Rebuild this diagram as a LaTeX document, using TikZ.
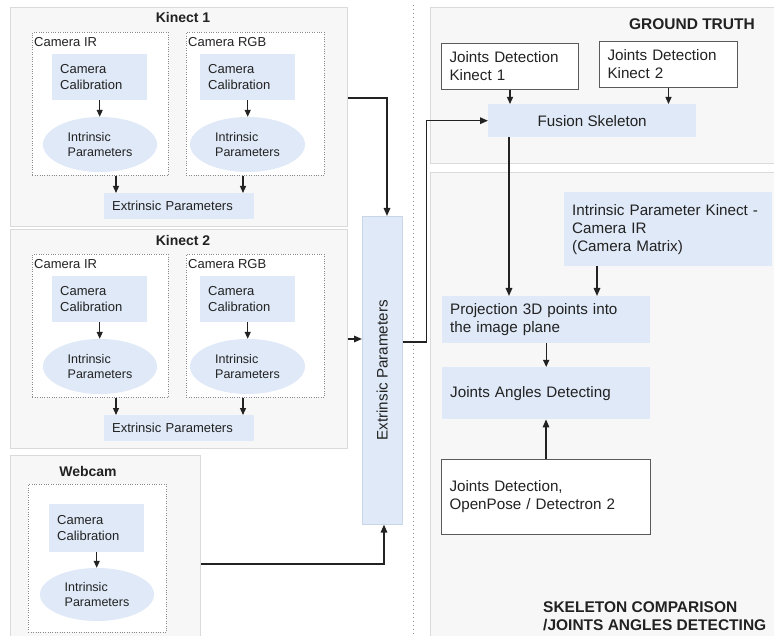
\documentclass[tikz,border=0pt]{standalone}
\usepackage{fontspec}
\setmainfont{Liberation Sans}
\usetikzlibrary{arrows.meta,calc,shapes.geometric}
\definecolor{panelfill}{HTML}{F7F7F7}
\definecolor{paneldraw}{HTML}{DADADA}
\definecolor{boxblue}{HTML}{DFE9F7}
\definecolor{boxedge}{HTML}{C9D6E8}
\definecolor{ink}{HTML}{222222}
\definecolor{dotgray}{HTML}{8A8A8A}
\definecolor{edgegray}{HTML}{5A5A5A}
\newcommand\kinectblock[3]{%
\begin{scope}[shift={(0,#2)}]
  \node[panel, minimum width=337pt, minimum height=219pt] (k#1) at (10,7) {};
  \node[ttl] (kt#1) at (183,18) {#3};
  \node[camframe, minimum width=136pt, minimum height=143pt] (ir#1) at (32,32) {};
  \node[lbl] (irl#1) at (34,46.5) {Camera IR};
  \node[camframe, minimum width=138pt, minimum height=143pt] (rgb#1) at (186,32) {};
  \node[lbl] (rgbl#1) at (188,46.5) {Camera RGB};
  \node[bluebox, text width=79pt, minimum height=46pt] (cci#1) at (52,54) {Camera\\Calibration};
  \node[bluebox, text width=79pt, minimum height=46pt] (ccr#1) at (200,54) {Camera\\Calibration};
  \node[oval, minimum width=114pt, minimum height=55pt] (eli#1) at (100,144.5) {Intrinsic\\Parameters};
  \node[oval, minimum width=115pt, minimum height=55pt] (elr#1) at (247.5,144.5) {Intrinsic\\Parameters};
  \draw[arrs] (cci#1.south) -- (cci#1.south |- eli#1.north);
  \draw[arrs] (ccr#1.south) -- (ccr#1.south |- elr#1.north);
  \node[bluebox, text width=134pt, minimum height=26pt] (ext#1) at (104,193) {Extrinsic Parameters};
  \draw[arrs] ([xshift=12pt]ext#1.north west) coordinate (ea#1) (ir#1.south -| ea#1) -- (ea#1);
  \draw[arrs] ([xshift=139pt]ext#1.north west) coordinate (eb#1) (rgb#1.south -| eb#1) -- (eb#1);
\end{scope}}
\begin{document}
\begin{tikzpicture}[x=1pt,y=-1pt,
 font=\fontsize{13}{15.5}\selectfont, text=ink,
 panel/.style={draw=paneldraw, fill=panelfill, line width=0.8pt, anchor=north west, inner sep=0pt},
 camframe/.style={draw=dotgray, dash pattern=on 0.8pt off 1.6pt, fill=white, line width=0.8pt, anchor=north west, inner sep=0pt},
 bluebox/.style={fill=boxblue, anchor=north west, inner xsep=8pt, inner ysep=0pt, align=left},
 whitebox/.style={draw=edgegray, fill=white, line width=1pt, anchor=north west, inner xsep=8pt, inner ysep=0pt, align=left},
 oval/.style={ellipse, fill=boxblue, inner sep=0pt, align=left, font=\fontsize{12.5}{15.5}\selectfont},
 ttl/.style={font=\fontsize{14}{16}\selectfont\bfseries, inner sep=0pt},
 bigttl/.style={font=\fontsize{15.5}{18}\selectfont\bfseries, inner sep=0pt},
 lbl/.style={inner sep=0pt, anchor=base west},
 arr/.style={draw=ink, line width=1.5pt, -{Triangle[length=8pt,width=6.5pt]}},
 arrs/.style={draw=ink, line width=1.3pt, -{Triangle[length=7pt,width=6pt]}},
 big/.style={font=\fontsize{15.2}{18}\selectfont},
]
\path[use as bounding box] (0,0) rectangle (774,636);

\kinectblock{1}{0}{Kinect 1}
\kinectblock{2}{222}{Kinect 2}

% Webcam
\node[panel, minimum width=190pt, minimum height=200pt] (web) at (10,455) {};
\node[ttl] (webt) at (88,471) {Webcam};
\node[camframe, minimum width=138pt, minimum height=148pt] (wcf) at (28,484) {};
\node[bluebox, text width=79pt, minimum height=48pt] (ccw) at (49,504) {Camera\\Calibration};
\node[oval, minimum width=114pt, minimum height=53pt] (elw) at (97,594.5) {Intrinsic\\Parameters};
\draw[arrs] (ccw.south) -- (ccw.south |- elw.north);

% vertical extrinsic
\node[fill=boxblue, draw=boxedge, line width=0.6pt, minimum width=40pt, minimum height=308pt, anchor=north west, inner sep=0pt] (extv) at (362,216) {};
\node[big, rotate=90, inner sep=0pt] (extvt) at (extv.center) {Extrinsic Parameters};

\draw[arr] ([yshift=-91pt]k1.north east) -| ([xshift=25pt]extv.north west);
\draw[arr] ([yshift=-110pt]k2.north east) coordinate (k2o) -- (k2o -| extv.west);
\draw[arr] ([yshift=-109pt]web.north east) -| ([xshift=22pt]extv.south west);

% separator
\draw[dotgray, line width=1pt, dash pattern=on 1pt off 3pt] (413,5) -- (413,636);

% Ground truth
\node[panel, minimum width=346pt, minimum height=156pt] (gt) at (430,7) {};
\node[bigttl, anchor=east] (gtt) at (755,24) {GROUND TRUTH};
\node[whitebox, big, text width=121pt, minimum height=46pt] (jd1) at (441,43) {Joints Detection\\Kinect 1};
\node[whitebox, big, text width=122pt, minimum height=46pt] (jd2) at (599,41) {Joints Detection\\Kinect 2};
\node[fill=boxblue, big, minimum width=208pt, minimum height=33pt, anchor=north west, inner sep=0pt] (fus) at (488,104) {Fusion Skeleton};
\draw[arrs] (jd1.south) -- (jd1.south |- fus.north);
\draw[arrs] (jd2.south) -- (jd2.south |- fus.north);

% Skeleton comparison
\node[panel, minimum width=346pt, minimum height=470pt] (sk) at (430,172) {};
\node[bigttl, anchor=north west, align=left] (skt) at (543,601) {SKELETON COMPARISON\\/JOINTS ANGLES DETECTING};
\node[bluebox, big, text width=192pt, minimum height=74pt] (intr) at (564,192) {Intrinsic Parameter Kinect -\\Camera IR\\(Camera Matrix)};
\node[bluebox, big, text width=192pt, minimum height=47pt] (proj) at (442,296) {Projection 3D points into\\the image plane};
\node[bluebox, big, text width=192pt, minimum height=52pt] (ja) at (442,367) {Joints Angles Detecting};
\node[whitebox, big, text width=193pt, minimum height=75pt] (jdo) at (441,459) {Joints Detection,\\OpenPose / Detectron 2};

\draw[arr] ([yshift=-126pt]extv.north east) -- ++(24,0) |- (fus.west);
\draw[arr] ([xshift=21pt]fus.south west) coordinate (fo) -- (fo |- proj.north);
\draw[arr] ([xshift=33pt]intr.south west) coordinate (io) -- (io |- proj.north);
\draw[arrs] (proj.south) -- (ja.north);
\draw[arr] (jdo.north) -- (jdo.north |- ja.south);
\end{tikzpicture}
\end{document}
